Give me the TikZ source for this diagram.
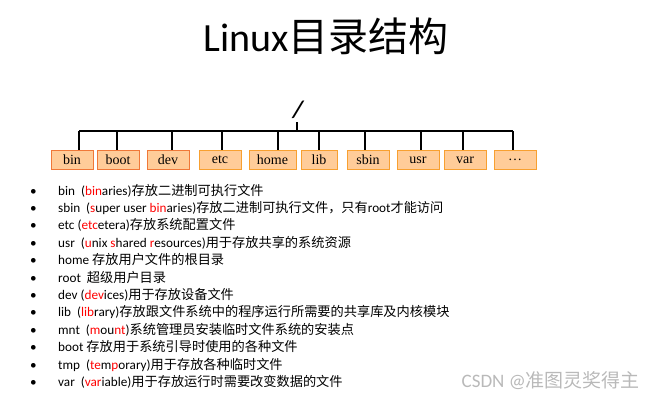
\documentclass[tikz,border=0pt]{standalone}
\usepackage{fontspec}
\setmainfont{Carlito}
\newfontfamily\cjk{Noto Sans CJK SC}
\newfontfamily\tms{Liberation Serif}
\newcommand{\zh}[1]{{\cjk #1}}
\newcommand{\rd}[1]{\textcolor{red}{#1}}
\definecolor{boxfill}{HTML}{FFCC99}
\definecolor{bordA}{HTML}{F07838}
\definecolor{bordB}{HTML}{F8A030}
\begin{document}
\begin{tikzpicture}[x=1pt,y=-1pt,
  dirbox/.style={draw=bordB,fill=boxfill,line width=1pt,minimum height=19pt,inner sep=0pt,font=\tms\fontsize{14}{14}\selectfont},
  bul/.style={anchor=base west,inner sep=0pt,font=\fontsize{13.2}{14}\selectfont},
  tree/.style={line width=1.2pt,black}]
\useasboundingbox (0,0) rectangle (652,405);
\node (title) at (326,36) {\fontsize{40}{44}\selectfont Linux\zh{目录结构}};
\node[font=\bfseries\itshape\fontsize{24}{24}\selectfont] (root) at (298,110) {/};
\coordinate (rb) at (297,122);
\coordinate (hl) at (79,131);
\coordinate (hr) at (513,131);
\coordinate (rj) at (297,131);
\draw[tree] (rb) -- (rj);
\draw[tree] (hl) -- (hr);
\foreach \n/\lab/\xa/\xb/\dx/\bc in {bin/bin/51/93/79/bordA, boot/boot/97/139/117/bordA, dev/dev/147/189/172/bordA, etc/etc/199/241/222/bordB, home/home/249/296/278/bordB, lib/lib/301/337/319/bordB, sbin/sbin/347/389/365/bordB, usr/usr/397/439/421/bordB, var/var/444/486/463/bordB, more/\dots/494/536/513/bordB}{
  \node[dirbox,draw=\bc,minimum width={\xb-\xa}] (\n) at ({(\xa+\xb)/2},160) {\lab};
  \coordinate (d\n) at (\dx,131);
  \draw[tree] (d\n) -- (\dx,150);
}
\foreach \i/\t in {
 0/{bin \ (\rd{bin}aries)\zh{存放二进制可执行文件}},
 1/{sbin \ (\rd{s}uper user \rd{bin}aries)\zh{存放二进制可执行文件，只有}root\zh{才能访问}},
 2/{etc (\rd{etc}etera)\zh{存放系统配置文件}},
 3/{usr \ (\rd{u}nix \rd{s}hared \rd{r}esources)\zh{用于存放共享的系统资源}},
 4/{home \zh{存放用户文件的根目录}},
 5/{root \ \zh{超级用户目录}},
 6/{dev (\rd{dev}ices)\zh{用于存放设备文件}},
 7/{lib \ (\rd{lib}rary)\zh{存放跟文件系统中的程序运行所需要的共享库及内核模块}},
 8/{mnt \ (\rd{m}ou\rd{nt})\zh{系统管理员安装临时文件系统的安装点}},
 9/{boot \zh{存放用于系统引导时使用的各种文件}},
 10/{tmp \ (\rd{te}m\rd{p}orary)\zh{用于存放各种临时文件}},
 11/{var \ (\rd{var}iable)\zh{用于存放运行时需要改变数据的文件}}}{
  \node[bul] (dot\i) at (30,{195+17.4*\i}) {\textbullet};
  \node[bul] (line\i) at (58,{195+17.4*\i}) {\t};
}
\node[anchor=base east,inner sep=0pt,text=gray!55,font=\fontsize{19}{20}\selectfont] (wm) at (640,387) {CSDN @\zh{准图灵奖得主}};
\end{tikzpicture}
\end{document}
